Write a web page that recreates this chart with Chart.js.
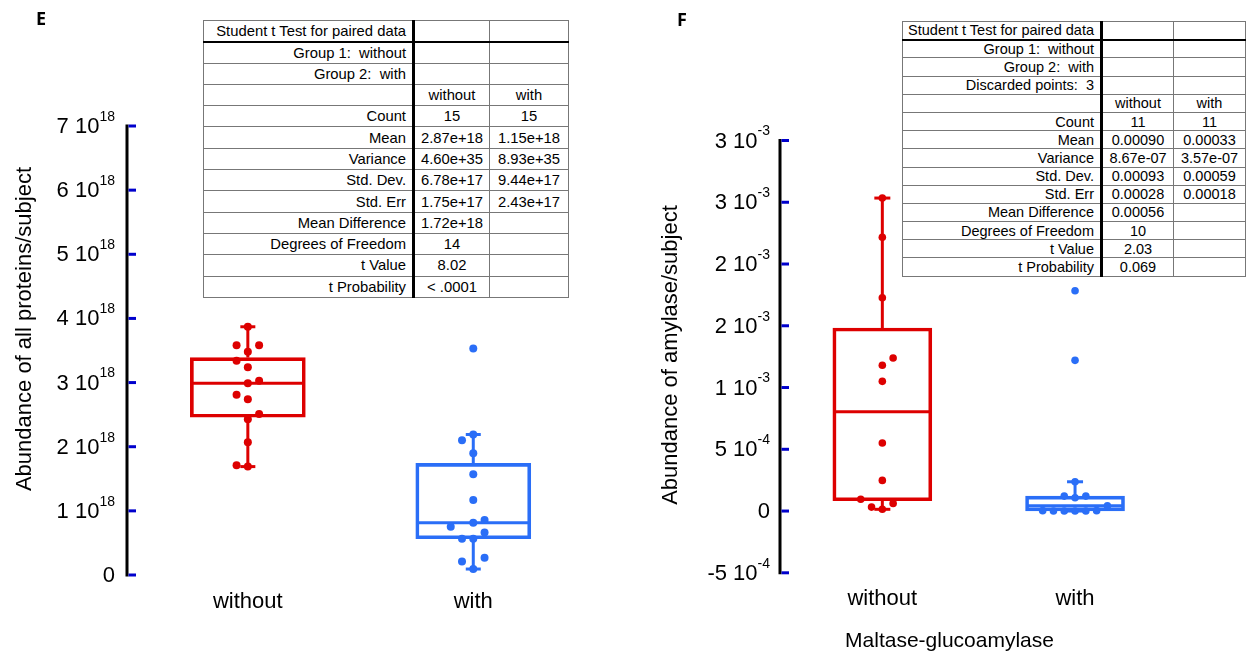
<!DOCTYPE html>
<html>
<head>
<meta charset="utf-8">
<script src="https://cdn.jsdelivr.net/npm/chart.js@4.4.1/dist/chart.umd.min.js"></script>
<style>
    body { margin: 0; background: #fff; font-family: "Liberation Sans", Arial, sans-serif; }
    .panel { position: absolute; top: 0; height: 653px; }
    .letter { position: absolute; font-family: "Open Sans", "DejaVu Sans", sans-serif; font-weight: bold; font-size: 18px; line-height: 18px; color: #000; }
    table.stats { position: absolute; border-collapse: collapse; table-layout: fixed; font-family: "Liberation Sans", Arial, sans-serif; color: #000; background: #fff; border: 1px solid #666; }
    table.stats td { border: 1px solid #777; padding: 0; white-space: pre; overflow: hidden; }
    table.stats td.lab { text-align: right; padding-right: 6px; border-right: 3px solid #000; }
    table.stats td.val { text-align: center; }
    table.stats tr.head td { border-bottom: 2px solid #000; }
</style>
</head>
<body>
<div class="panel" style="left:0;width:620px"><canvas id="chartE" width="620" height="653"></canvas></div>
<div class="panel" style="left:620px;width:629px"><canvas id="chartF" width="629" height="653"></canvas></div>
<div class="letter" style="left:36px;top:9px">E</div>
<div class="letter" style="left:677px;top:10px">F</div>
<table class="stats" id="tableE" style="left:203px;top:20px;width:365px"></table>
<table class="stats" id="tableF" style="left:902px;top:21px;width:343px"></table>

<script>
// ---- data ----
const categories = ["without", "with"];

// panel E: abundance of all proteins / subject
const withoutE = [3.87e18, 3.58e18, 3.58e18, 3.48e18, 3.34e18, 3.24e18, 3.03e18, 2.99e18, 2.81e18, 2.74e18, 2.51e18, 2.43e18, 2.07e18, 1.71e18, 1.69e18];
const withoutSlotsE = [0, -1, 1, 0, -1, 0, 1, 0, -1, 0, 1, 0, 0, -1, 0];
const withE = [3.53e18, 2.19e18, 2.10e18, 1.90e18, 1.57e18, 1.17e18, 0.856e18, 0.814e18, 0.752e18, 0.663e18, 0.565e18, 0.565e18, 0.27e18, 0.212e18, 0.093e18];
const withSlotsE = [0, 0, -1, 0, 0, 0, 1, 0, -2, 1, -1, 0, 1, -1, 0];
// min, q1, median, q3, max
const boxWithoutE = [1.69e18, 2.46e18, 2.99e18, 3.39e18, 3.87e18];
const boxWithE = [0.093e18, 0.565e18, 0.814e18, 1.74e18, 2.19e18];
const tickValuesE = [0, 1e18, 2e18, 3e18, 4e18, 5e18, 6e18, 7e18];
const tickMantE = ["0", "1", "2", "3", "4", "5", "6", "7"];
const tickExpE = ["", "18", "18", "18", "18", "18", "18", "18"];

// panel F: abundance of amylase / subject
const withoutF = [2.534e-3, 2.216e-3, 1.727e-3, 1.239e-3, 1.180e-3, 1.050e-3, 0.551e-3, 0.248e-3, 0.095e-3, 0.062e-3, 0.032e-3, 0.014e-3];
const withoutSlotsF = [0, 0, 0, 1, 0, 0, 0, 0, -2, 1, -1, 0];
const withF = [1.784e-3, 1.220e-3, 0.237e-3, 0.121e-3, 0.108e-3, 0.121e-3, 0.043e-3, 0.003e-3, 0, 0, 0, 0, 0.003e-3];
const withSlotsF = [0, 0, 0, -1, 0, 1, 3, -3, -2, -1, 0, 1, 2];
const boxWithoutF = [0.014e-3, 0.083e-3, 0.804e-3, 1.482e-3, 2.534e-3];
const boxWithF = [0, 0.002e-3, 0.043e-3, 0.121e-3, 0.237e-3];
const tickValuesF = [-5e-4, 0, 5e-4, 1e-3, 1.5e-3, 2e-3, 2.5e-3, 3e-3];
const tickMantF = ["-5", "0", "5", "1", "2", "2", "3", "3"];
const tickExpF = ["-4", "", "-4", "-3", "-3", "-3", "-3", "-3"];

// t test tables
const statLabelsE = ["Student t Test for paired data", "Group 1:  without", "Group 2:  with", "", "Count", "Mean", "Variance", "Std. Dev.", "Std. Err", "Mean Difference", "Degrees of Freedom", "t Value", "t Probability"];
const statWithoutE = ["", "", "", "without", "15", "2.87e+18", "4.60e+35", "6.78e+17", "1.75e+17", "1.72e+18", "14", "8.02", "< .0001"];
const statWithE = ["", "", "", "with", "15", "1.15e+18", "8.93e+35", "9.44e+17", "2.43e+17", "", "", "", ""];

const statLabelsF = ["Student t Test for paired data", "Group 1:  without", "Group 2:  with", "Discarded points:  3", "", "Count", "Mean", "Variance", "Std. Dev.", "Std. Err", "Mean Difference", "Degrees of Freedom", "t Value", "t Probability"];
const statWithoutF = ["", "", "", "", "without", "11", "0.00090", "8.67e-07", "0.00093", "0.00028", "0.00056", "10", "2.03", "0.069"];
const statWithF = ["", "", "", "", "with", "11", "0.00033", "3.57e-07", "0.00059", "0.00018", "", "", "", ""];

const RED = "#dd0000";
const BLUE = "#2a6ef7";
const FONT = '"Liberation Sans", Arial, sans-serif';

function buildTable(id, labels, c1, c2, rowH, fontPx, widths) {
    const t = document.getElementById(id);
    let html = "<colgroup>" + widths.map(w => `<col style="width:${w}px">`).join("") + "</colgroup>";
    labels.forEach((lab, i) => {
        html += `<tr class="${i === 0 ? "head" : ""}" style="height:${rowH}px;font-size:${fontPx}px">` +
            `<td class="lab">${lab.replace("<", "&lt;")}</td><td class="val">${c1[i].replace("<", "&lt;")}</td><td class="val">${c2[i]}</td></tr>`;
    });
    t.innerHTML = html;
}

buildTable("tableE", statLabelsE, statWithoutE, statWithE, 21.3, 14.8, [210, 76, 79]);
buildTable("tableF", statLabelsF, statWithoutF, statWithF, 18.2, 14.5, [199, 72, 72]);

// axis, tick labels and titles drawn from the chart's own scales
const decorPlugin = {
    id: "decor",
    afterDraw(chart, args, opts) {
        const { ctx, chartArea } = chart;
        const xs = chart.scales.x, ys = chart.scales.y;
        const ax = chartArea.left;
        const top = ys.getPixelForValue(opts.ticks[opts.ticks.length - 1]);
        const bottom = ys.getPixelForValue(opts.ticks[0]);
        ctx.save();
        ctx.strokeStyle = "#000";
        ctx.lineWidth = 3;
        ctx.beginPath();
        ctx.moveTo(ax, top - 1.5);
        ctx.lineTo(ax, bottom + 1.5);
        ctx.stroke();

        ctx.strokeStyle = "#0000cc";
        ctx.textBaseline = "middle";
        opts.ticks.forEach((v, i) => {
            const py = ys.getPixelForValue(v);
            ctx.beginPath();
            ctx.moveTo(ax + 1.5, py);
            ctx.lineTo(ax + 9, py);
            ctx.stroke();

            const xr = ax - opts.labelGap;
            ctx.fillStyle = "#000";
            if (opts.exps[i]) {
                ctx.font = "14px " + FONT;
                const w = ctx.measureText(opts.exps[i]).width;
                ctx.textAlign = "left";
                ctx.fillText(opts.exps[i], xr - w, py - 9);
                ctx.font = "22px " + FONT;
                ctx.textAlign = "right";
                ctx.fillText(opts.mants[i] + " 10", xr - w, py + 1);
            } else {
                ctx.font = "22px " + FONT;
                ctx.textAlign = "right";
                ctx.fillText(opts.mants[i], xr, py + 1);
            }
        });

        // category labels
        ctx.font = "22px " + FONT;
        ctx.textAlign = "center";
        categories.forEach((c, i) => {
            ctx.fillText(c, xs.getPixelForValue(i), chartArea.bottom + opts.catOffset);
        });
        if (opts.xTitle) {
            ctx.font = "21px " + FONT;
            ctx.fillText(opts.xTitle, opts.xTitlePos[0], opts.xTitlePos[1]);
        }

        // y title
        ctx.translate(opts.yTitlePos[0], opts.yTitlePos[1]);
        ctx.rotate(-Math.PI / 2);
        ctx.font = "22px " + FONT;
        ctx.textAlign = "center";
        ctx.fillText(opts.yTitle, 0, 0);
        ctx.restore();
    }
};

function buildDatasets(groups, st) {
    const ds = [];
    ds.push({
        type: "bar",
        data: groups.map((g, i) => ({ x: i, y: [g.box[1], g.box[3]] })),
        backgroundColor: "rgba(0,0,0,0)",
        borderColor: groups.map(g => g.color),
        borderWidth: 3,
        borderSkipped: false,
        barThickness: st.boxPx,
        order: 2,
        clip: false
    });
    ds.push({
        type: "scatter",
        data: groups.map((g, i) => ({ x: i, y: g.box[2] })),
        pointStyle: "line",
        pointRadius: st.boxPx / 2 - 1.5,
        pointBorderWidth: 3,
        pointBorderColor: groups.map(g => g.color),
        order: 2,
        clip: false
    });
    groups.forEach((g, i) => {
        [[g.box[3], g.box[4]], [g.box[1], g.box[0]]].forEach(seg => {
            ds.push({
                type: "line",
                data: [{ x: i, y: seg[0] }, { x: i, y: seg[1] }],
                borderColor: g.color,
                borderWidth: 3,
                pointStyle: "line",
                pointRadius: [0, st.cap],
                pointBorderWidth: 3,
                pointBorderColor: g.color,
                fill: false,
                order: 1,
                clip: false
            });
        });
        ds.push({
            type: "scatter",
            data: g.values.map((v, k) => ({ x: i + g.slots[k] * st.step, y: v })),
            pointRadius: st.dot,
            pointBackgroundColor: g.color,
            pointBorderWidth: 0,
            order: 0,
            clip: false
        });
    });
    return ds;
}

function makeChart(id, groups, st, yRange, xRange, padding, decor) {
    return new Chart(document.getElementById(id), {
        type: "scatter",
        data: { datasets: buildDatasets(groups, st) },
        options: {
            responsive: false,
            animation: false,
            events: [],
            layout: { padding: padding, autoPadding: false },
            scales: {
                x: { type: "linear", display: false, offset: false, grid: { offset: false }, min: xRange[0], max: xRange[1] },
                y: { type: "linear", display: false, min: yRange[0], max: yRange[1] }
            },
            plugins: { legend: { display: false }, tooltip: { enabled: false }, decor: decor }
        },
        plugins: [decorPlugin]
    });
}

makeChart("chartE",
    [{ box: boxWithoutE, values: withoutE, slots: withoutSlotsE, color: RED },
     { box: boxWithE, values: withE, slots: withSlotsE, color: BLUE }],
    { boxPx: 115, cap: 7.5, dot: 4, step: 0.050 },
    [0, 7e18], [-0.536, 1.5],
    { left: 127, top: 126, right: 34, bottom: 78 },
    { ticks: tickValuesE, mants: tickMantE, exps: tickExpE, labelGap: 12, catOffset: 27,
      yTitle: "Abundance of all proteins/subject", yTitlePos: [25, 329] });

makeChart("chartF",
    [{ box: boxWithoutF, values: withoutF, slots: withoutSlotsF, color: RED },
     { box: boxWithF, values: withF, slots: withSlotsF, color: BLUE }],
    { boxPx: 99, cap: 8, dot: 3.8, step: 0.056 },
    [-5e-4, 3e-3], [-0.531, 1.5],
    { left: 160, top: 140.5, right: 77.6, bottom: 80.2 },
    { ticks: tickValuesF, mants: tickMantF, exps: tickExpF, labelGap: 10, catOffset: 26.5,
      xTitle: "Maltase-glucoamylase", xTitlePos: [329.5, 641],
      yTitle: "Abundance of amylase/subject", yTitlePos: [51, 355] });
</script>
</body>
</html>
